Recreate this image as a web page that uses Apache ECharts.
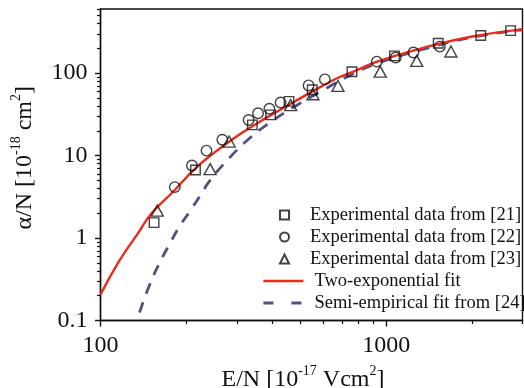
<!DOCTYPE html>
<html>
<head>
<meta charset="utf-8">
<script src="https://cdn.jsdelivr.net/npm/echarts@6/dist/echarts.min.js"></script>
<style>
  html, body { margin: 0; padding: 0; background: #fff; }
  #chart { width: 524px; height: 388px; }
</style>
</head>
<body>
<div id="chart"></div>
<script>
// Ionization coefficient alpha/N versus reduced field E/N (log-log)

// Experimental data from [21] (squares)
const exp21X = [154, 215, 340, 394, 457, 551, 759, 1069, 1521, 2143, 2726];
const exp21Y = [1.54, 6.7, 23.6, 31.2, 45.5, 63, 104, 162, 231, 286, 328];

// Experimental data from [22] (circles)
const exp22X = [182, 209, 235, 267, 330, 356, 390, 427, 535, 610, 927, 1080, 1245, 1541];
const exp22Y = [4.15, 7.6, 11.5, 15.6, 27, 32.7, 37, 44, 71, 84, 138, 155, 178, 210];

// Experimental data from [23] (triangles)
const exp23X = [158, 242, 282, 463, 554, 678, 953, 1279, 1685];
const exp23Y = [2.15, 6.85, 14.8, 41, 55.5, 70, 104.5, 141, 183];

// Two-exponential fit
const fitX = [100, 116, 135, 151, 181, 213, 247, 290, 331, 379, 482, 533, 664, 760, 940, 1330, 2000, 3000];
const fitY = [0.205, 0.52, 1.13, 2.0, 3.75, 6.8, 10.5, 15.8, 21.5, 28.5, 46, 56, 85, 103, 140, 200, 278, 340];

// Semi-empirical fit from [24]
const semiX = [137, 148.5, 161, 174, 189, 207, 228, 240, 282, 331, 384, 482, 600, 760, 940, 1330, 2000, 3000];
const semiY = [0.125, 0.27, 0.5, 0.83, 1.38, 2.19, 3.67, 4.85, 9.3, 16, 24, 40, 62, 97, 133, 193, 272, 336];

// Axis ticks
const xMajorTicks = [100, 1000];
const xMinorTicks = [200, 300, 400, 500, 600, 700, 800, 900, 2000, 3000];
const yMajorTicks = [0.1, 1, 10, 100];
const yMinorTicks = [0.2, 0.3, 0.4, 0.5, 0.6, 0.7, 0.8, 0.9, 2, 3, 4, 5, 6, 7, 8, 9,
                     20, 30, 40, 50, 60, 70, 80, 90, 200, 300, 400, 500, 600];

const seriesNames = [
  'Experimental data from [21]',
  'Experimental data from [22]',
  'Experimental data from [23]',
  'Two-exponential fit',
  'Semi-empirical fit from [24]'
];

const zip = (xs, ys) => xs.map((x, i) => [x, ys[i]]);

const FONT = 'Liberation Serif';
const INK = '#111';
const RED = '#ec2a1c';
const SLATE = '#4f5182';

const markerStyle = { color: 'none', borderColor: INK, borderWidth: 1.4 };

const supRich = {
  n: { fontFamily: FONT, fontSize: 24, color: INK, lineHeight: 30 },
  s: { fontFamily: FONT, fontSize: 14, color: INK, lineHeight: 16, verticalAlign: 'top' }
};

const legendText = { fontFamily: FONT, fontSize: 18.5, color: INK, lineHeight: 22 };

const fmt = v => String(+Number(v).toPrecision(6));

const chart = echarts.init(document.getElementById('chart'), null, { renderer: 'canvas' });

chart.setOption({
  animation: false,
  backgroundColor: '#fff',
  grid: {
    left: 100.5, right: 1.5, top: 9, bottom: 67.5,
    outerBoundsMode: 'none',
    containLabel: false,
    show: true, borderColor: INK, borderWidth: 1.4, backgroundColor: 'transparent'
  },
  legend: [
    {
      // marker entries
      orient: 'vertical',
      left: 277.5,
      top: 204,
      padding: 0,
      itemGap: 0,
      itemWidth: 9,
      itemHeight: 9,
      data: seriesNames.slice(0, 3),
      textStyle: Object.assign({ padding: [0, 0, 0, 16] }, legendText)
    },
    {
      // curve entries
      orient: 'vertical',
      left: 262,
      top: 270,
      padding: 0,
      itemGap: 0,
      itemWidth: 40,
      itemHeight: 9,
      data: [
        { name: seriesNames[3] },
        { name: seriesNames[4], lineStyle: { type: [10, 18] } }
      ],
      lineStyle: { width: 'inherit' },
      textStyle: Object.assign({ padding: [0, 0, 0, 6] }, legendText)
    }
  ],
  xAxis: [
    {
      type: 'log', logBase: 10, min: 100, max: 3000,
      name: '{n|E/N [10}{s|-17}{n| Vcm}{s|2}{n|]}',
      nameLocation: 'middle', nameGap: 44,
      nameTextStyle: { rich: supRich, padding: [0, 17, 0, 0] },
      axisLine: { show: true, lineStyle: { color: INK, width: 1.4 } },
      axisTick: { show: true, inside: false, length: 6, customValues: xMajorTicks, lineStyle: { color: INK, width: 1.4 } },
      minorTick: { show: false },
      axisLabel: { customValues: xMajorTicks, formatter: fmt, fontFamily: FONT, fontSize: 24, color: INK, margin: 13 },
      splitLine: { show: false }
    },
    {
      type: 'log', logBase: 10, min: 100, max: 3000, position: 'bottom', gridIndex: 0,
      axisLine: { show: false },
      axisTick: { show: true, inside: false, length: 3.5, customValues: xMinorTicks, lineStyle: { color: INK, width: 1.2 } },
      axisLabel: { show: false },
      splitLine: { show: false }
    }
  ],
  yAxis: [
    {
      type: 'log', logBase: 10, min: 0.1, max: 600,
      name: '{n|α/N [10}{s|-18}{n| cm}{s|2}{n|]}',
      nameLocation: 'middle', nameGap: 61, nameRotate: 90,
      nameTextStyle: { rich: supRich, padding: [0, 0, 0, 14] },
      axisLine: { show: true, lineStyle: { color: INK, width: 1.4 } },
      axisTick: { show: true, inside: false, length: 5.5, customValues: yMajorTicks, lineStyle: { color: INK, width: 1.4 } },
      minorTick: { show: false },
      axisLabel: { customValues: yMajorTicks, formatter: fmt, fontFamily: FONT, fontSize: 24, color: INK, margin: 13 },
      splitLine: { show: false }
    },
    {
      type: 'log', logBase: 10, min: 0.1, max: 600, position: 'left', gridIndex: 0,
      axisLine: { show: false },
      axisTick: { show: true, inside: false, length: 3.5, customValues: yMinorTicks, lineStyle: { color: INK, width: 1.2 } },
      axisLabel: { show: false },
      splitLine: { show: false }
    }
  ],
  series: [
    {
      name: seriesNames[4], type: 'line', smooth: 0.5, symbol: 'none',
      data: zip(semiX, semiY), z: 2,
      lineStyle: { color: SLATE, width: 2.8, type: [11, 9], cap: 'butt' },
      itemStyle: { color: 'transparent', borderColor: 'transparent', borderWidth: 0 }
    },
    {
      name: seriesNames[3], type: 'line', smooth: 0.5, symbol: 'none',
      data: zip(fitX, fitY), z: 3,
      lineStyle: { color: RED, width: 2.4 },
      itemStyle: { color: 'transparent', borderColor: 'transparent', borderWidth: 0 }
    },
    {
      name: seriesNames[0], type: 'scatter', symbol: 'rect', symbolSize: 9.5,
      data: zip(exp21X, exp21Y), z: 4, itemStyle: markerStyle
    },
    {
      name: seriesNames[1], type: 'scatter', symbol: 'circle', symbolSize: 10.5,
      data: zip(exp22X, exp22Y), z: 4, itemStyle: markerStyle
    },
    {
      name: seriesNames[2], type: 'scatter', symbol: 'triangle', symbolSize: [12, 11],
      data: zip(exp23X, exp23Y), z: 4, itemStyle: markerStyle
    }
  ]
});
</script>
</body>
</html>
